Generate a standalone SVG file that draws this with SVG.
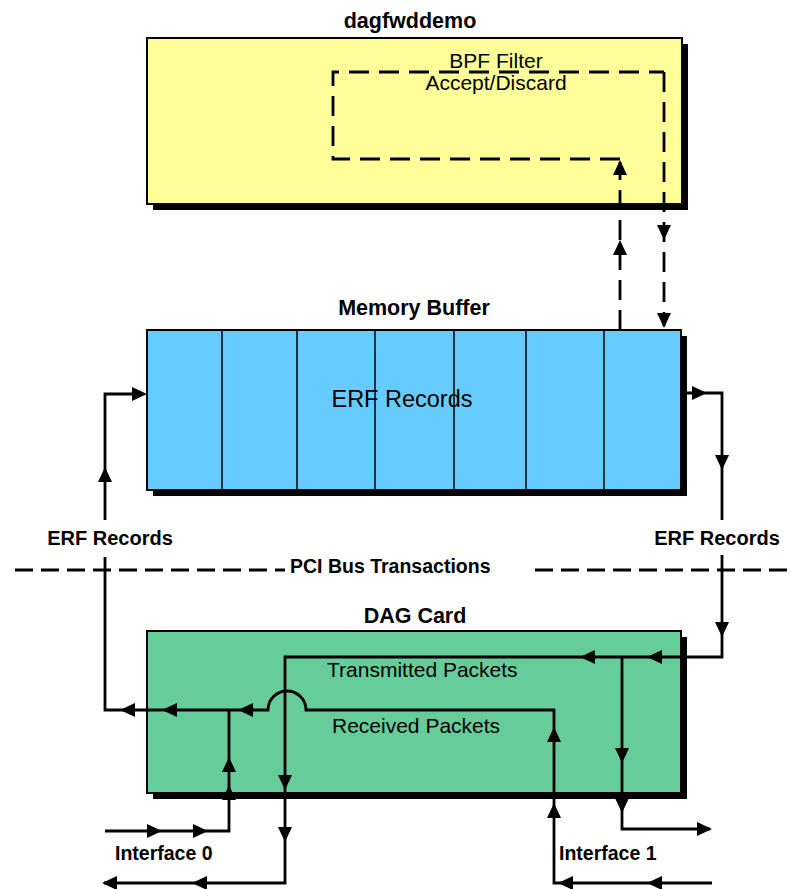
<svg xmlns="http://www.w3.org/2000/svg" width="792" height="889" viewBox="0 0 792 889">
<defs>
<path id="ah" d="M0,0 L-15,-7 L-15,7 Z" fill="#000"/>
</defs>
<style>
.box{stroke:#000;stroke-width:2}
.shadow{fill:#000}
.title{font-family:"Liberation Sans",Arial,sans-serif;font-weight:bold;font-size:21.5px;text-anchor:middle;fill:#000}
.lbl{font-family:"Liberation Sans",Arial,sans-serif;font-weight:bold;font-size:20px;fill:#000}
.txt{font-family:"Liberation Sans",Arial,sans-serif;font-size:21px;fill:#000}
.wire{fill:none;stroke:#000;stroke-width:2.8}
.dash{fill:none;stroke:#000;stroke-width:2.8;stroke-dasharray:20 10}
.pci{fill:none;stroke:#000;stroke-width:2.8;stroke-dasharray:18 8}
.div{stroke:#000;stroke-width:1.5}
</style>
<rect width="792" height="889" fill="#fff"/>

<g id="dagfwddemo">
<rect x="153" y="44" width="535" height="166" class="shadow"/>
<rect x="147" y="38" width="535" height="166" fill="#FFFF99" class="box"/>
<text x="410" y="28" class="title">dagfwddemo</text>
</g>

<g id="bpf-filter">
<path class="dash" d="M620,159 H333 V72 H664"/>
<text x="496" y="68" class="txt" text-anchor="middle">BPF Filter</text>
<text x="496" y="90" class="txt" text-anchor="middle">Accept/Discard</text>
</g>

<g id="memory-buffer">
<rect x="153" y="336" width="534" height="160" class="shadow"/>
<rect x="147" y="330" width="534" height="160" fill="#66CCFF" class="box"/>
<line class="div" x1="222" y1="330" x2="222" y2="490"/>
<line class="div" x1="297" y1="330" x2="297" y2="490"/>
<line class="div" x1="375" y1="330" x2="375" y2="490"/>
<line class="div" x1="454" y1="330" x2="454" y2="490"/>
<line class="div" x1="526" y1="330" x2="526" y2="490"/>
<line class="div" x1="604" y1="330" x2="604" y2="490"/>
<text x="414" y="315" class="title">Memory Buffer</text>
<text x="402" y="407" class="txt" style="font-size:23.5px" text-anchor="middle">ERF Records</text>
</g>

<g id="dag-card">
<rect x="153" y="637" width="534" height="162" class="shadow"/>
<rect x="147" y="631" width="534" height="162" fill="#66CC99" class="box"/>
<text x="415" y="623" class="title">DAG Card</text>
<text x="327" y="677" class="txt">Transmitted Packets</text>
<text x="332" y="733" class="txt">Received Packets</text>
</g>

<g id="labels">
<text x="110" y="545" class="lbl" text-anchor="middle">ERF Records</text>
<text x="717" y="545" class="lbl" text-anchor="middle">ERF Records</text>
<text x="290" y="573" class="lbl" style="font-size:19.5px">PCI Bus Transactions</text>
<text x="115" y="860" class="lbl" style="font-size:19.5px">Interface 0</text>
<text x="559" y="860" class="lbl" style="font-size:19.5px">Interface 1</text>
</g>

<g id="connectors">
<path class="pci" d="M15,570 H285 M535,570 H792"/>
<path class="dash" d="M664,72 V326"/>
<path class="dash" d="M620,330 V162"/>
<use href="#ah" transform="translate(620,160) rotate(-90)"/>
<use href="#ah" transform="translate(620,240) rotate(-90)"/>
<use href="#ah" transform="translate(664,240) rotate(90)"/>
<use href="#ah" transform="translate(664,328) rotate(90)"/>

<path class="wire" d="M712,883 H554 V710 H306 A19,19 0 0 0 268,710 H105 V557"/>
<path class="wire" d="M105,520 V394 H140"/>
<use href="#ah" transform="translate(647,883) rotate(180)"/>
<use href="#ah" transform="translate(558,883) rotate(180)"/>
<use href="#ah" transform="translate(554,803) rotate(-90)"/>
<use href="#ah" transform="translate(554,727) rotate(-90)"/>
<use href="#ah" transform="translate(238,710) rotate(180)"/>
<use href="#ah" transform="translate(162,710) rotate(180)"/>
<use href="#ah" transform="translate(120,710) rotate(180)"/>
<use href="#ah" transform="translate(105,467) rotate(-90)"/>
<use href="#ah" transform="translate(147,394)"/>

<path class="wire" d="M105,831 H229 V710"/>
<use href="#ah" transform="translate(162,831)"/>
<use href="#ah" transform="translate(208,831)"/>
<use href="#ah" transform="translate(229,785) rotate(-90)"/>
<use href="#ah" transform="translate(229,757) rotate(-90)"/>

<path class="wire" d="M683,393 H722 V520"/>
<path class="wire" d="M722,555 V657 H285 V883 H104"/>
<use href="#ah" transform="translate(707,393)"/>
<use href="#ah" transform="translate(722,470) rotate(90)"/>
<use href="#ah" transform="translate(722,637) rotate(90)"/>
<use href="#ah" transform="translate(647,657) rotate(180)"/>
<use href="#ah" transform="translate(580,657) rotate(180)"/>
<use href="#ah" transform="translate(285,790) rotate(90)"/>
<use href="#ah" transform="translate(285,842) rotate(90)"/>
<use href="#ah" transform="translate(192,883) rotate(180)"/>
<use href="#ah" transform="translate(102,883) rotate(180)"/>

<path class="wire" d="M622,657 V829 H710"/>
<use href="#ah" transform="translate(622,763) rotate(90)"/>
<use href="#ah" transform="translate(622,813) rotate(90)"/>
<use href="#ah" transform="translate(712,829)"/>
</g>
</svg>
